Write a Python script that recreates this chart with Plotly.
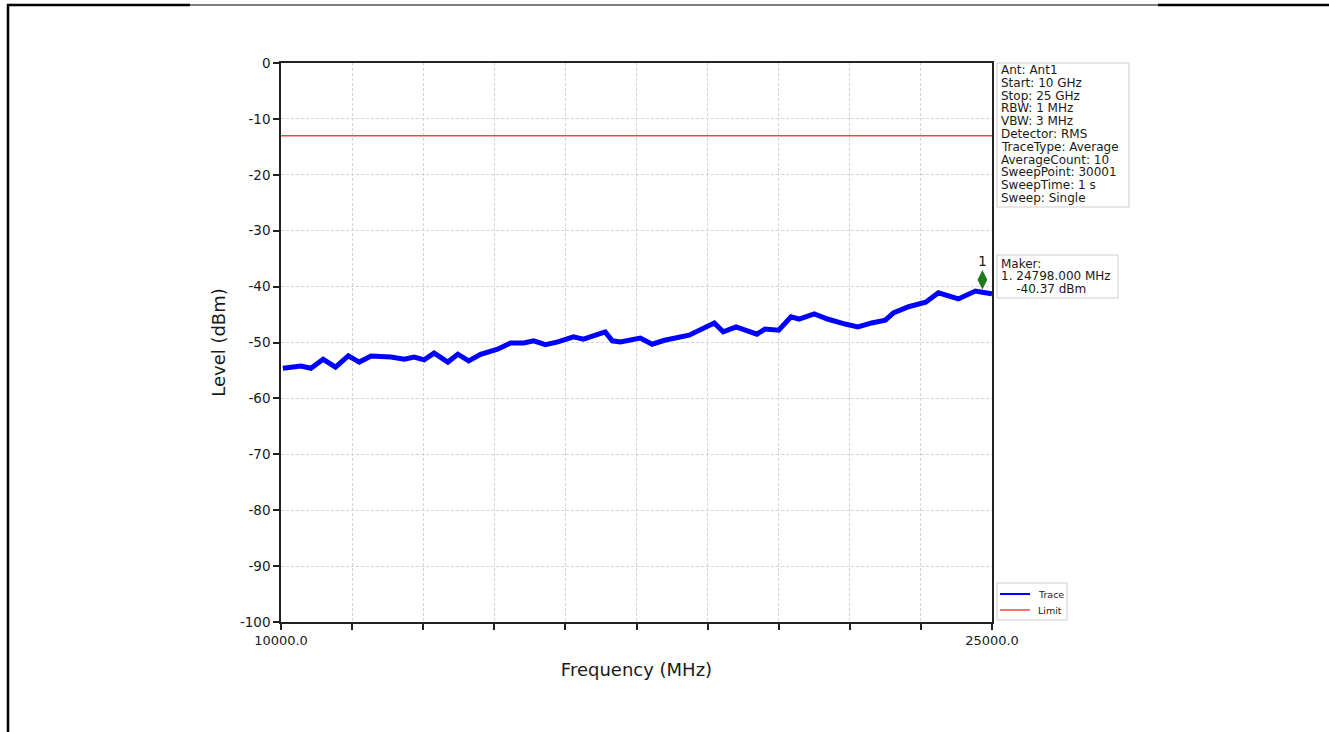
import plotly.graph_objects as go

# ---- data ----
freq_mhz = [10040, 10420, 10630, 10890, 11150, 11420, 11650, 11900, 12320, 12600,
            12810, 13020, 13230, 13520, 13730, 13960, 14210, 14570, 14840, 15120,
            15330, 15580, 15840, 16170, 16380, 16590, 16840, 16990, 17160, 17580,
            17830, 18090, 18610, 19140, 19330, 19600, 19870, 20040, 20210, 20500,
            20760, 20930, 21250, 21530, 21900, 22170, 22460, 22750, 22920, 23240,
            23600, 23870, 24290, 24650, 24860, 24990, 25000]
level_dbm = [-54.6, -54.2, -54.6, -53.0, -54.4, -52.4, -53.5, -52.4, -52.6, -53.0,
             -52.6, -53.1, -51.9, -53.5, -52.1, -53.3, -52.1, -51.2, -50.1, -50.1,
             -49.7, -50.4, -49.9, -49.0, -49.4, -48.8, -48.1, -49.7, -49.9, -49.2,
             -50.3, -49.6, -48.7, -46.5, -48.1, -47.2, -48.1, -48.5, -47.6, -47.8,
             -45.4, -45.8, -44.9, -45.8, -46.7, -47.2, -46.5, -46.0, -44.7, -43.6,
             -42.8, -41.1, -42.2, -40.8, -41.1, -41.3, -41.3]
limit_dbm = -13
x_ticks = [10000, 11500, 13000, 14500, 16000, 17500, 19000, 20500, 22000, 23500, 25000]
x_tick_text = ["10000.0", "", "", "", "", "", "", "", "", "", "25000.0"]
y_ticks = [0, -10, -20, -30, -40, -50, -60, -70, -80, -90, -100]
y_tick_text = ["0", "-10", "-20", "-30", "-40", "-50", "-60", "-70", "-80", "-90", "-100"]
marker_freq = 24798
marker_level = -40.37
marker_symbol_offset = 1.6
info_lines = ["Ant: Ant1", "Start: 10 GHz", "Stop: 25 GHz", "RBW: 1 MHz", "VBW: 3 MHz",
              "Detector: RMS", "TraceType: Average", "AverageCount: 10",
              "SweepPoint: 30001", "SweepTime: 1 s", "Sweep: Single"]
marker_lines = ["Maker:", "1. 24798.000 MHz", "    -40.37 dBm"]
legend_names = ["Trace", "Limit"]
legend_colors = ["#0000ff", "#ff4040"]

FONT = "DejaVu Sans, Liberation Sans, Arial, sans-serif"
TXT = "#1a1a1a"

W, H = 1329, 732
L, R, T, B = 281, 337, 63, 110
pw, ph = W - L - R, H - T - B


def px(x):
    return (x - L) / pw


def py(y):
    return (H - B - y) / ph


fig = go.Figure()
fig.add_trace(go.Scatter(x=freq_mhz, y=level_dbm, mode="lines", name=legend_names[0],
                         line=dict(color=legend_colors[0], width=5), showlegend=False))
fig.add_trace(go.Scatter(x=[x_ticks[0], x_ticks[-1]], y=[limit_dbm, limit_dbm],
                         mode="lines", name=legend_names[1], showlegend=False,
                         line=dict(color=legend_colors[1], width=1.5)))
fig.add_trace(go.Scatter(x=[marker_freq], y=[marker_level + marker_symbol_offset],
                         mode="markers+text", text=["1"], textposition="top center",
                         textfont=dict(size=14, color=TXT, family=FONT),
                         marker=dict(symbol="diamond-tall", size=14, color="#1e7a1e"),
                         showlegend=False, cliponaxis=False))

grid = dict(showgrid=True, gridcolor="#d4d4d4", griddash="3px,2px", gridwidth=1)
fig.update_layout(
    width=W, height=H,
    margin=dict(l=L, r=R, t=T, b=B),
    paper_bgcolor="white", plot_bgcolor="white",
    font=dict(family=FONT, color=TXT),
    showlegend=False,
    xaxis=dict(range=[x_ticks[0], x_ticks[-1]], tickvals=x_ticks, ticktext=x_tick_text,
               ticks="outside", ticklen=6, tickcolor="#222", tickwidth=1.5,
               showline=True, linecolor="#222", linewidth=1.5, mirror=True,
               tickfont=dict(size=13, family=FONT, color=TXT), zeroline=False,
               title=dict(text="Frequency (MHz)", font=dict(size=18, family=FONT, color=TXT),
                          standoff=16), **grid),
    yaxis=dict(range=[-100, 0], tickvals=y_ticks, ticktext=y_tick_text,
               ticks="outside", ticklen=6, tickcolor="#222", tickwidth=1.5,
               showline=True, linecolor="#222", linewidth=1.5, mirror=True,
               tickfont=dict(size=13.5, family=FONT, color=TXT), zeroline=False,
               title=dict(text="Level (dBm)", font=dict(size=18, family=FONT, color=TXT),
                          standoff=10), **grid),
)

# info box
fig.add_shape(type="rect", xref="paper", yref="paper", x0=px(997), x1=px(1129),
              y0=py(63), y1=py(207), line=dict(color="#cfcfcf", width=1), fillcolor="white")
for i, line in enumerate(info_lines):
    fig.add_annotation(xref="paper", yref="paper", x=px(999), y=py(70 + 12.8 * i),
                       xanchor="left", yanchor="middle", text=line, showarrow=False,
                       font=dict(size=12, family=FONT, color=TXT))
# marker box
fig.add_shape(type="rect", xref="paper", yref="paper", x0=px(997), x1=px(1118),
              y0=py(255), y1=py(298), line=dict(color="#cfcfcf", width=1), fillcolor="white")
for i, line in enumerate(marker_lines):
    fig.add_annotation(xref="paper", yref="paper", x=px(999), y=py(263.5 + 12.8 * i),
                       xanchor="left", yanchor="middle", text=line.replace(" ", "&nbsp;"),
                       showarrow=False, font=dict(size=12, family=FONT, color=TXT))
# legend box
fig.add_shape(type="rect", xref="paper", yref="paper", x0=px(997), x1=px(1067),
              y0=py(583), y1=py(620), line=dict(color="#cfcfcf", width=1), fillcolor="white")
for i, (name, col) in enumerate(zip(legend_names, legend_colors)):
    yy = 594 + 16 * i
    fig.add_shape(type="line", xref="paper", yref="paper", x0=px(1000), x1=px(1030),
                  y0=py(yy), y1=py(yy), line=dict(color=col, width=2 if i == 0 else 1.5))
    fig.add_annotation(xref="paper", yref="paper", x=px(1036), y=py(yy),
                       xanchor="left", yanchor="middle", text=name, showarrow=False,
                       font=dict(size=9.5, family=FONT, color=TXT))

# page border of the document the chart sits in
fig.add_shape(type="line", xref="paper", yref="paper", x0=px(7), x1=px(1329), y0=py(5), y1=py(5),
              line=dict(color="black", width=1))
fig.add_shape(type="line", xref="paper", yref="paper", x0=px(7), x1=px(190), y0=py(5), y1=py(5),
              line=dict(color="black", width=2.5))
fig.add_shape(type="line", xref="paper", yref="paper", x0=px(1158), x1=px(1329), y0=py(5), y1=py(5),
              line=dict(color="black", width=2.5))
fig.add_shape(type="line", xref="paper", yref="paper", x0=px(8), x1=px(8), y0=py(4), y1=py(732),
              line=dict(color="black", width=2.5))

fig.write_html("out.html", config={"displayModeBar": False},
               post_script="document.body.style.margin='0';document.body.style.overflow='hidden';")
